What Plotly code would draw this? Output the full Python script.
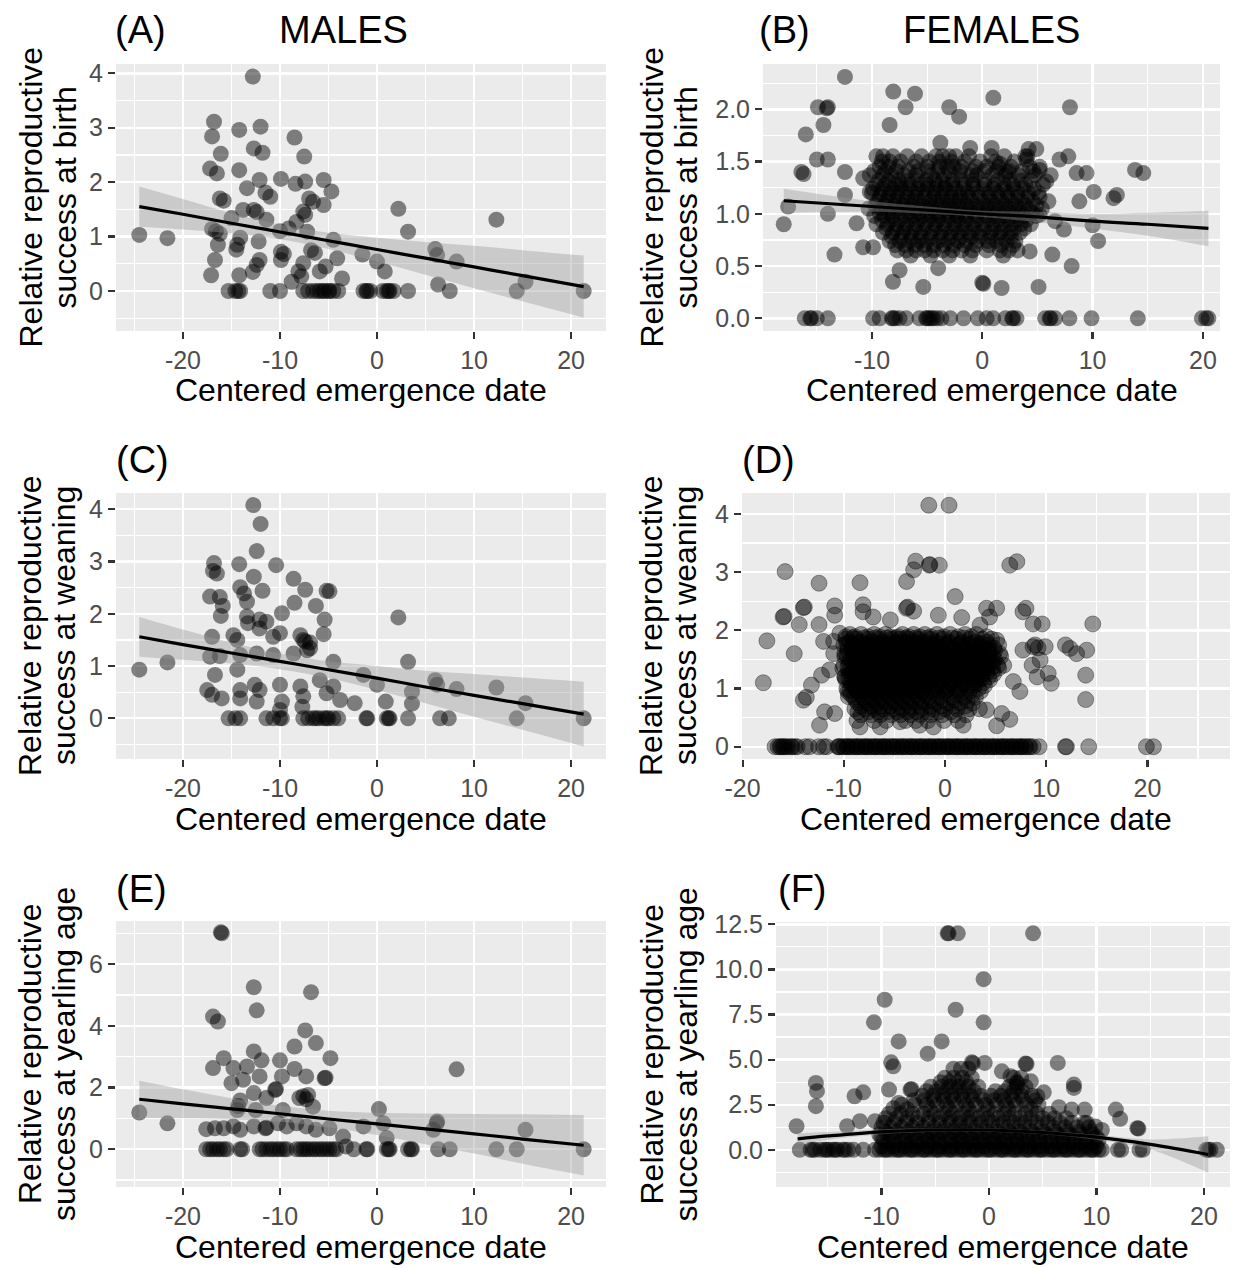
import plotly.graph_objects as go

W, H = 1235, 1268
FONT = "Liberation Sans, Arial, sans-serif"

# ---------------- tick labels ----------------
X_TICKS_M = [-20, -10, 0, 10, 20]
X_TICKS_M_TXT = ["-20", "-10", "0", "10", "20"]
X_TICKS_F = [-10, 0, 10, 20]
X_TICKS_F_TXT = ["-10", "0", "10", "20"]
Y_TICKS_A = [0, 1, 2, 3, 4]
Y_TICKS_A_TXT = ["0", "1", "2", "3", "4"]
Y_TICKS_B = [0.0, 0.5, 1.0, 1.5, 2.0]
Y_TICKS_B_TXT = ["0.0", "0.5", "1.0", "1.5", "2.0"]
Y_TICKS_E = [0, 2, 4, 6]
Y_TICKS_E_TXT = ["0", "2", "4", "6"]
Y_TICKS_F = [0.0, 2.5, 5.0, 7.5, 10.0, 12.5]
Y_TICKS_F_TXT = ["0.0", "2.5", "5.0", "7.5", "10.0", "12.5"]

# ---------------- panel A: males, birth ----------------
A_x = [
    -12.8, -16.8, -17.0, -14.2, -12.0, -8.5, -16.1, -12.7, -11.8, -7.5,
    -17.2, -16.5, -14.2, -12.1, -9.9, -8.4, -7.4, -5.5, -4.7, -13.4,
    -11.5, -16.2, -15.8, -7.0, -6.6, -5.5, -11.0, -13.8, -12.7, -12.4,
    -15.0, -11.4, -7.6, -7.4, -8.3, -9.1, -17.0, -16.6, -16.2, -14.1,
    -12.2, -10.0, -7.2, -4.5, -24.5, -21.6, -16.4, -14.4, -14.5, -9.9,
    -9.6, -6.8, -6.4, -16.7, -12.1, -12.4, -9.9, -7.6, -4.1, -5.3,
    -17.1, -14.2, -12.8, -8.1, -7.8, -5.9, -3.6, -8.8, -1.5, 0.0,
    0.8, 2.2, 3.2, 6.0, 6.2, 8.2, 6.3, 12.3, 15.3,
]
A_y = [
    3.94, 3.11, 2.84, 2.96, 3.02, 2.82, 2.52, 2.62, 2.54, 2.47,
    2.25, 2.16, 2.22, 2.04, 2.06, 1.97, 2.01, 2.04, 1.83, 1.89,
    1.81, 1.70, 1.66, 1.70, 1.64, 1.58, 1.73, 1.49, 1.49, 1.45,
    1.34, 1.31, 1.46, 1.40, 1.27, 1.15, 1.14, 1.10, 1.05, 0.98,
    0.91, 1.10, 1.09, 0.94, 1.03, 0.97, 0.85, 0.85, 0.76, 0.72,
    0.68, 0.75, 0.70, 0.57, 0.57, 0.48, 0.57, 0.51, 0.60, 0.45,
    0.29, 0.29, 0.35, 0.36, 0.27, 0.36, 0.23, 0.17, 0.67, 0.54,
    0.36, 1.51, 1.09, 0.77, 0.66, 0.54, 0.12, 1.31, 0.17,
]
A_zero_x = [-15.3, -14.6, -14.3, -14.1, -11.0, -10.0, -7.6, -7.1, -6.6, -6.2,
            -5.9, -5.6, -5.4, -5.0, -4.9, -4.5, -4.0, -1.4, -1.1, -1.0,
            -0.7, 0.6, 1.0, 1.2, 1.3, 1.7, 3.2, 7.5, 14.4, 21.3]
A_fit_x = [-24.5, -20, -15, -10, -5, 0, 5, 10, 15, 21.3]
A_fit_y = [1.55, 1.41, 1.245, 1.085, 0.924, 0.763, 0.603, 0.442, 0.282, 0.08]
A_fit_lo = [1.18, 1.13, 1.06, 0.95, 0.77, 0.54, 0.30, 0.05, -0.19, -0.49]
A_fit_hi = [1.92, 1.69, 1.43, 1.22, 1.07, 0.98, 0.90, 0.83, 0.75, 0.65]

# ---------------- panel B: females, birth ----------------
B_x = [
    -12.45, -8.07, -6.1, -6.95, 1.0, 7.95, -3.0, -2.1, -14.9, -14.0,
    -14.1, -14.4, -16.0, -8.4, -15.0, -14.0, -16.4, -16.2, -12.45, -17.6,
    -18.0, -14.0, -13.4, -12.45, -11.4, -10.8, -10.8, -9.9, -10.2, -8.1,
    -7.5, -5.35, 0.1, 0.0, 1.75, 5.1, 8.1, 6.35, -1.1, 0.85,
    -3.8, 4.2, 4.9, 4.0, 4.1, 7.0, 7.8, 8.55, 9.45, 10.1,
    11.9, 12.2, 13.85, 14.6, 10.5, 10.0, 8.8, 5.8, 5.2, 5.2,
    2.8, 1.6, 2.2, -4.0, 4.3, 6.6, 7.4,
]
B_y = [
    2.31, 2.17, 2.15, 2.02, 2.11, 2.02, 2.02, 1.93, 2.02, 2.02,
    2.01, 1.85, 1.76, 1.85, 1.52, 1.52, 1.40, 1.38, 1.40, 1.07,
    0.90, 1.00, 0.61, 1.18, 0.91, 1.34, 0.68, 0.68, 1.21, 0.35,
    0.46, 0.30, 0.33, 0.34, 0.29, 0.30, 0.50, 0.61, 1.63, 1.63,
    1.68, 1.62, 1.62, 1.52, 1.55, 1.52, 1.55, 1.39, 1.39, 1.21,
    1.15, 1.18, 1.42, 1.39, 0.74, 0.89, 1.12, 1.31, 1.42, 0.99,
    0.70, 1.48, 1.40, 0.48, 0.64, 0.93, 0.85,
]
B_core_y = [1.55, 1.45, 1.37, 1.28, 1.20, 1.12, 1.05, 0.98, 0.90, 0.82, 0.74, 0.65, 0.60]
B_core_x = [
    [-9.6, -9.0, -8.1, -6.8, -5.5, -4.2, -3.6, -3.0, -2.4, -1.2, 0.8, 2.0, 3.9],
    [-9.3, -8.5, -7.6, -6.2, -5.0, -3.9, -3.2, -2.6, -1.9, -0.6, 0.4, 1.5, 2.6, 4.3, 5.2],
    [-10.2, -9.0, -8.2, -7.1, -6.0, -4.6, -3.5, -2.2, -1.0, -0.5, 0.9, 2.1, 3.3, 4.8, 6.2],
    [-9.6, -8.8, -7.9, -7.3, -6.5, -5.6, -4.9, -4.1, -3.3, -2.7, -1.6, -0.8, 0.2, 1.1, 2.0, 2.8, 3.9, 5.5],
    [-10.0, -9.2, -8.4, -7.7, -6.9, -6.1, -5.3, -4.4, -3.7, -2.9, -2.1, -1.3, -0.4, 0.6, 1.4, 2.3, 3.2, 4.2, 5.1],
    [-9.5, -8.7, -8.0, -7.2, -6.4, -5.7, -4.8, -4.1, -3.2, -2.5, -1.7, -0.9, 0.1, 0.9, 1.8, 2.7, 3.6, 4.6, 6.0],
    [-10.3, -9.2, -8.3, -7.5, -6.7, -5.9, -5.1, -4.4, -3.5, -2.8, -2.0, -1.1, -0.3, 0.6, 1.5, 2.4, 3.3, 4.2, 5.4],
    [-9.8, -8.9, -8.1, -7.0, -6.2, -5.4, -4.6, -3.9, -3.0, -2.3, -1.5, -0.6, 0.3, 1.1, 2.0, 2.9, 3.8, 4.9],
    [-9.6, -8.6, -7.8, -6.9, -6.0, -5.2, -4.3, -3.5, -2.6, -1.8, -0.9, 0.0, 0.9, 1.7, 2.6, 3.5, 4.4],
    [-9.0, -8.1, -7.2, -6.5, -5.6, -4.7, -3.8, -2.9, -2.1, -1.2, -0.3, 0.7, 1.6, 2.5, 3.4],
    [-8.4, -7.5, -6.6, -5.8, -5.0, -4.0, -3.1, -2.2, -1.4, -0.5, 0.5, 1.3, 2.2, 3.0],
    [-7.7, -6.9, -6.0, -5.2, -4.4, -3.6, -2.7, -1.9, -0.9, 0.4, 1.6, 2.4, 3.2],
    [-6.5, -4.7, -3.0, -1.1, 1.9],
]
B_core2_y = [1.50, 1.41, 1.32, 1.24, 1.16, 1.08, 1.01, 0.94, 0.86, 0.78, 0.70]
B_core2_x = [
    [-9.1, -8.4, -7.4, -6.0, -4.8, -3.9, -2.8, -1.6, -0.2, 1.2, 2.9],
    [-9.8, -8.8, -7.8, -6.7, -5.8, -4.9, -4.0, -3.0, -2.0, -0.9, 0.2, 1.3, 2.4, 3.6, 4.6],
    [-9.4, -8.5, -7.6, -6.8, -5.9, -5.1, -4.3, -3.6, -2.7, -1.9, -0.9, 0.2, 1.4, 2.5, 3.5, 4.4],
    [-9.9, -9.0, -8.2, -7.4, -6.6, -5.8, -5.0, -4.2, -3.4, -2.5, -1.7, -0.8, 0.1, 1.0, 1.9, 2.8, 3.7, 4.7],
    [-9.3, -8.5, -7.7, -6.8, -6.0, -5.2, -4.4, -3.6, -2.8, -2.0, -1.2, -0.3, 0.6, 1.5, 2.3, 3.2, 4.1, 5.2],
    [-9.7, -8.8, -7.9, -7.1, -6.3, -5.4, -4.6, -3.8, -3.0, -2.2, -1.4, -0.5, 0.4, 1.2, 2.1, 3.0, 3.9, 4.9],
    [-9.3, -8.5, -7.6, -6.7, -5.8, -5.0, -4.2, -3.3, -2.5, -1.7, -0.8, 0.1, 1.0, 1.9, 2.7, 3.6, 4.5],
    [-9.1, -8.2, -7.4, -6.5, -5.7, -4.8, -4.0, -3.1, -2.2, -1.4, -0.5, 0.5, 1.4, 2.3, 3.1, 4.0],
    [-8.7, -7.8, -7.0, -6.1, -5.2, -4.3, -3.4, -2.5, -1.6, -0.7, 0.2, 1.1, 2.0, 2.9, 3.8],
    [-8.2, -7.3, -6.4, -5.5, -4.6, -3.7, -2.8, -1.9, -1.0, -0.1, 0.8, 1.7, 2.6],
    [-7.9, -7.0, -6.1, -5.3, -4.4, -3.5, -2.6, -1.6, -0.6, 0.6, 1.7],
]
B_zero_x = [-16.1, -15.6, -15.5, -15.0, -14.0, -9.9, -9.3, -8.2, -8.1, -7.9,
            -7.5, -6.9, -5.7, -5.1, -5.0, -4.8, -4.6, -4.4, -4.1, -3.7,
            -2.9, -1.7, -0.4, 0.4, 1.0, 2.1, 2.7, 2.8, 3.1, 5.7,
            6.1, 6.2, 6.6, 7.9, 9.9, 14.1, 19.9, 20.3, 20.5]
B_fit_x = [-18, -10, -5, 0, 5, 10, 15, 20.5]
B_fit_y = [1.125, 1.07, 1.035, 1.0, 0.97, 0.93, 0.90, 0.86]
B_fit_lo = [1.01, 1.02, 1.0, 0.97, 0.92, 0.86, 0.79, 0.69]
B_fit_hi = [1.24, 1.12, 1.07, 1.03, 1.02, 1.00, 1.01, 1.03]

# ---------------- panel C: males, weaning ----------------
C_x = [
    -12.75, -12.0, -12.4, -16.8, -16.9, -16.5, -14.2, -10.4, -12.7, -8.6,
    -17.2, -16.2, -15.9, -16.1, -14.1, -13.7, -13.4, -11.8, -7.4, -5.2,
    -4.9, -8.5, -6.3, -9.8, -12.1, -11.4, -5.4, -7.9, -7.4, -6.9,
    -5.5, -17.0, -14.8, -14.4, -13.3, -10.0, -17.2, -16.2, -14.1, -14.4,
    -12.4, -10.7, -8.6, -4.5, -24.5, -21.6, -16.7, -17.5, -17.0, -16.0,
    -14.1, -14.1, -12.6, -12.1, -12.4, -10.0, -9.8, -10.0, -7.9, -7.6,
    -7.7, -5.9, -5.2, -4.5, -3.8, -2.3, -1.4, 0.0, 0.9, 2.2,
    3.2, 3.6, 3.6, 6.0, 6.2, 8.2, 12.3, 15.3, -7.6, -7.2,
    -6.9, -13.4, -10.7, -12.1,
]
C_y = [
    4.08, 3.72, 3.20, 2.97, 2.82, 2.77, 2.95, 2.93, 2.71, 2.67,
    2.33, 2.32, 2.15, 1.96, 2.51, 2.39, 2.23, 2.44, 2.46, 2.44,
    2.43, 2.21, 2.15, 2.01, 1.89, 1.85, 1.89, 1.59, 1.47, 1.34,
    1.61, 1.56, 1.59, 1.50, 1.82, 1.63, 1.18, 1.19, 1.21, 0.93,
    1.24, 1.21, 1.24, 1.08, 0.93, 1.07, 0.83, 0.54, 0.45, 0.38,
    0.54, 0.38, 0.64, 0.54, 0.32, 0.64, 0.32, 0.16, 0.61, 0.42,
    0.22, 0.73, 0.48, 0.61, 0.35, 0.29, 0.83, 0.64, 0.32, 1.93,
    1.08, 0.51, 0.28, 0.73, 0.64, 0.56, 0.59, 0.29, 1.50, 1.30,
    1.45, 1.95, 1.56, 1.72,
]
C_zero_x = [-15.3, -14.6, -14.1, -11.4, -10.7, -10.0, -9.8, -7.6, -7.1, -6.6,
            -6.3, -6.0, -5.5, -5.2, -5.0, -4.5, -4.0, -1.1, -1.0, 1.0,
            1.2, 1.3, 3.2, 6.5, 7.4, 14.4, 21.3]
C_fit_x = [-24.5, -20, -15, -10, -5, 0, 5, 10, 15, 21.3]
C_fit_y = [1.56, 1.41, 1.25, 1.09, 0.93, 0.77, 0.60, 0.44, 0.28, 0.08]
C_fit_lo = [1.18, 1.12, 1.05, 0.94, 0.77, 0.54, 0.29, 0.03, -0.22, -0.54]
C_fit_hi = [1.94, 1.70, 1.45, 1.24, 1.09, 1.00, 0.91, 0.85, 0.78, 0.70]

# ---------------- panel D: females, weaning ----------------
D_x = [
    -1.6, 0.4, -15.8, -12.45, -8.4, -2.9, -1.55, -1.5, -0.56, -3.1,
    -3.8, 6.4, 7.1, 1.0, -14.0, -13.9, -16.0, -15.9, -14.4, -12.45,
    -10.9, -10.9, -8.1, -8.1, -7.1, -5.4, -3.8, -3.7, -3.1, -0.66,
    1.65, 3.46, 4.1, 5.1, 4.4, 8.0, 7.7, 8.7, 9.6, 14.6,
    -17.6, -14.9, -12.0, -11.0, -11.0, -17.95, -13.2, -12.2, -11.4, -14.0,
    -13.7, -11.9, -10.9, -12.4, 7.7, 8.9, 9.9, 9.4, 10.2, 9.1,
    10.5, 8.6, 8.7, 9.2, 11.9, 12.35, 13.0, 14.0, 13.9, 13.9,
    7.4, 6.75, 6.4, 5.6, 5.1, 4.1, 5.8, 5.1, 4.1, -10.4,
    -9.9, -9.55, -8.4, -6.4, -4.45, -2.5, -1.15, 1.8,
]
D_y = [
    4.15, 4.15, 3.01, 2.81, 2.82, 3.19, 3.12, 3.13, 3.12, 3.04,
    2.84, 3.12, 3.18, 2.58, 2.39, 2.40, 2.23, 2.24, 2.10, 2.10,
    2.42, 2.26, 2.44, 2.32, 2.23, 2.18, 2.38, 2.40, 2.33, 2.26,
    2.22, 2.09, 2.38, 2.38, 2.23, 2.38, 2.32, 2.11, 2.11, 2.11,
    1.82, 1.60, 1.81, 1.81, 1.60, 1.10, 1.06, 1.23, 1.32, 0.80,
    0.85, 0.60, 0.57, 0.37, 1.66, 1.75, 1.72, 1.49, 1.26, 1.20,
    1.09, 1.40, 1.72, 1.70, 1.75, 1.69, 1.60, 1.66, 1.23, 0.81,
    0.95, 1.12, 0.47, 0.57, 0.36, 0.63, 1.40, 1.83, 1.89, 1.95,
    1.20, 0.86, 0.34, 0.34, 0.43, 0.37, 0.34, 0.37,
]
D_core_y = [1.93, 1.85, 1.75, 1.65, 1.55, 1.45, 1.35, 1.25, 1.15, 1.05, 0.95, 0.85, 0.75, 0.65, 0.55, 0.45]
D_core_x = [
    [-9.4, -8.3, -7.0, -5.9, -4.2, -3.1, -2.0, -0.8, 0.5, 2.0, 3.1],
    [-9.8, -8.8, -7.6, -6.5, -5.3, -4.5, -3.6, -2.6, -1.4, -0.2, 1.1, 2.5, 3.7, 4.6],
    [-10.0, -9.1, -8.0, -7.1, -6.0, -5.0, -4.1, -3.2, -2.2, -1.0, 0.1, 1.3, 2.2, 3.3, 4.3, 5.3],
    [-9.6, -8.6, -7.5, -6.6, -5.6, -4.6, -3.7, -2.8, -1.7, -0.6, 0.6, 1.7, 2.8, 3.8, 4.9],
    [-9.9, -8.9, -8.1, -7.0, -6.1, -5.2, -4.2, -3.3, -2.3, -1.3, -0.2, 0.9, 2.1, 3.2, 4.4, 5.5],
    [-9.5, -8.4, -7.4, -6.4, -5.5, -4.7, -3.8, -2.7, -1.8, -0.7, 0.4, 1.5, 2.6, 3.6, 4.7],
    [-10.1, -9.0, -8.0, -7.0, -6.0, -5.1, -4.3, -3.3, -2.3, -1.2, -0.1, 1.0, 2.1, 3.1, 4.2, 5.3],
    [-9.4, -8.5, -7.6, -6.6, -5.6, -4.7, -3.8, -2.9, -1.8, -0.7, 0.5, 1.6, 2.7, 3.7, 4.8],
    [-9.8, -8.8, -7.9, -7.0, -6.1, -5.2, -4.3, -3.3, -2.4, -1.3, -0.1, 1.1, 2.2, 3.3, 4.4],
    [-9.2, -8.3, -7.4, -6.5, -5.6, -4.8, -3.9, -2.9, -1.9, -0.8, 0.4, 1.6, 2.8, 3.9],
    [-9.6, -8.7, -7.8, -6.9, -6.0, -5.1, -4.2, -3.2, -2.3, -1.2, 0.0, 1.2, 2.4, 3.5],
    [-9.0, -8.1, -7.2, -6.3, -5.4, -4.5, -3.6, -2.6, -1.6, -0.5, 0.7, 1.9, 3.0],
    [-8.6, -7.6, -6.7, -5.8, -4.9, -3.9, -3.0, -2.0, -0.9, 0.3, 1.5, 2.7],
    [-8.9, -7.9, -7.0, -6.1, -5.1, -4.2, -3.3, -2.3, -1.2, 0.0, 1.2, 2.4, 3.4],
    [-8.3, -7.3, -6.4, -5.3, -4.4, -3.4, -2.4, -1.4, -0.3, 0.9, 2.1],
    [-8.7, -7.0, -5.8, -3.9, -2.9, -1.7, -0.1, 1.3],
]
D_core2_y = [1.89, 1.80, 1.70, 1.60, 1.50, 1.40, 1.30, 1.20, 1.10, 1.00, 0.90, 0.80, 0.70, 0.60]
D_core2_x = [
    [-9.8, -8.9, -7.6, -6.5, -5.4, -4.6, -3.6, -2.5, -1.4, -0.1, 1.3, 2.6],
    [-9.4, -8.3, -7.2, -6.1, -4.9, -4.0, -3.1, -2.1, -0.9, 0.4, 1.7, 3.0, 4.1],
    [-9.6, -8.6, -7.6, -6.6, -5.5, -4.6, -3.7, -2.7, -1.6, -0.5, 0.7, 1.8, 2.8, 3.8, 4.8],
    [-9.9, -9.1, -8.0, -7.0, -6.1, -5.1, -4.2, -3.3, -2.2, -1.1, 0.0, 1.2, 2.3, 3.3, 4.4, 5.4],
    [-9.4, -8.5, -7.5, -6.6, -5.6, -4.7, -3.8, -2.8, -1.8, -0.8, 0.3, 1.5, 2.6, 3.8, 4.9],
    [-10.0, -9.0, -7.9, -6.9, -6.0, -5.1, -4.2, -3.2, -2.2, -1.2, -0.1, 1.0, 2.0, 3.1, 4.2, 5.2],
    [-9.5, -8.5, -7.5, -6.5, -5.6, -4.7, -3.8, -2.8, -1.7, -0.6, 0.5, 1.6, 2.6, 3.7, 4.7],
    [-9.9, -8.9, -8.0, -7.1, -6.1, -5.2, -4.3, -3.3, -2.3, -1.2, -0.1, 1.1, 2.2, 3.2, 4.3],
    [-9.3, -8.3, -7.4, -6.5, -5.6, -4.8, -3.8, -2.8, -1.8, -0.7, 0.5, 1.6, 2.7, 3.8],
    [-9.7, -8.8, -7.9, -7.0, -6.1, -5.2, -4.3, -3.4, -2.4, -1.3, -0.2, 1.0, 2.2, 3.3],
    [-9.3, -8.4, -7.5, -6.6, -5.7, -4.8, -3.9, -2.9, -1.9, -0.8, 0.3, 1.5, 2.7],
    [-8.8, -7.9, -7.0, -6.1, -5.1, -4.2, -3.3, -2.3, -1.3, -0.2, 1.0, 2.2],
    [-8.3, -7.3, -6.4, -5.4, -4.5, -3.5, -2.5, -1.5, -0.4, 0.8, 2.0],
    [-8.6, -7.6, -6.6, -5.7, -4.7, -3.7, -2.8, -1.7, -0.6, 0.6],
]
D_core3_y = [1.87, 1.77, 1.67, 1.57, 1.47, 1.37, 1.27, 1.17, 1.07, 0.97]
D_core3_x = [
    [-9.1, -8.0, -6.9, -5.8, -4.9, -3.9, -2.9, -1.8, -0.6, 0.7, 1.9],
    [-9.7, -8.7, -7.7, -6.7, -5.8, -4.8, -3.9, -2.9, -1.9, -0.8, 0.4, 1.5, 2.6, 3.6],
    [-9.2, -8.2, -7.3, -6.3, -5.3, -4.4, -3.4, -2.4, -1.3, -0.2, 1.0, 2.1, 3.2, 4.3],
    [-9.7, -8.7, -7.8, -6.8, -5.9, -4.9, -4.0, -3.0, -2.0, -0.9, 0.2, 1.4, 2.5, 3.6, 4.7],
    [-9.1, -8.1, -7.1, -6.1, -5.2, -4.3, -3.3, -2.3, -1.3, -0.3, 0.8, 1.9, 3.0, 4.1],
    [-9.6, -8.6, -7.6, -6.7, -5.7, -4.8, -3.8, -2.8, -1.8, -0.7, 0.4, 1.5, 2.6, 3.6, 4.7],
    [-9.1, -8.1, -7.1, -6.2, -5.3, -4.3, -3.4, -2.4, -1.4, -0.3, 0.8, 1.9, 3.0, 4.1],
    [-9.5, -8.5, -7.6, -6.6, -5.7, -4.8, -3.8, -2.8, -1.8, -0.8, 0.3, 1.4, 2.5, 3.6],
    [-9.0, -8.0, -7.1, -6.2, -5.3, -4.4, -3.5, -2.5, -1.5, -0.4, 0.7, 1.9, 3.0],
    [-9.4, -8.5, -7.6, -6.7, -5.8, -4.9, -4.0, -3.0, -2.0, -0.9, 0.2, 1.4],
]
D_zero_x = [
    -16.8, -16.5, -16.2, -16.0, -15.7, -15.5, -15.2, -14.8, -14.6, -13.8,
    -13.4, -12.5, -12.0, -11.7, -10.6, -10.4, -10.1, -9.7, -9.5, -9.2,
    -8.8, -8.6, -8.3, -7.9, -7.7, -7.4, -7.0, -6.8, -6.5, -6.1,
    -5.9, -5.6, -5.2, -5.0, -4.7, -4.3, -4.1, -3.8, -3.4, -3.2,
    -2.9, -2.5, -2.3, -2.0, -1.6, -1.4, -1.1, -0.7, -0.5, -0.2,
    0.2, 0.4, 0.7, 1.1, 1.3, 1.6, 2.0, 2.2, 2.5, 2.9,
    3.1, 3.4, 3.8, 4.0, 4.3, 4.7, 4.9, 5.2, 5.6, 5.8,
    6.1, 6.5, 6.7, 7.0, 7.4, 7.6, 7.9, 8.3, 8.7, 9.3,
    11.9, 12.0, 14.2, 19.9, 20.6,
    -10.5, -10.0, -9.6, -9.1, -8.7, -8.2, -7.8, -7.3, -6.9, -6.4,
    -6.0, -5.5, -5.1, -4.6, -4.2, -3.7, -3.3, -2.8, -2.4, -1.9,
    -1.5, -1.0, -0.6, -0.1, 0.3, 0.8, 1.2, 1.7, 2.1, 2.6,
    3.0, 3.5, 3.9, 4.4, 4.8, 5.3, 5.7, 6.2, 6.6, 7.1,
    7.5, 8.0, 8.4, -16.3, -15.9, -15.1,
]

# ---------------- panel E: males, yearling ----------------
E_x = [
    -16.1, -16.0, -12.7, -6.8, -12.4, -16.9, -16.4, -7.4, -8.5, -6.3,
    -4.8, -15.8, -12.7, -11.9, -10.0, -16.9, -14.8, -13.4, -8.5, -7.3,
    -5.4, -5.3, -15.0, -13.8, -12.1, -10.5, -10.4, -9.8, -14.1, -14.4,
    -14.3, -12.7, -12.5, -8.0, -7.6, -7.1, -7.3, -6.6, -11.4, -9.7,
    -24.5, -21.6, -17.6, -16.7, -15.8, -14.8, -14.1, -12.7, -11.5, -11.4,
    -10.2, -9.3, -8.3, -7.3, -6.3, -4.9, -3.5, -3.2, -1.4, 0.2,
    0.65, 1.0, 6.15, 6.2, 5.8, 8.2, 15.3,
]
E_y = [
    7.03, 7.00, 5.25, 5.09, 4.50, 4.30, 4.14, 3.85, 3.33, 3.44,
    2.95, 2.95, 3.17, 2.88, 2.88, 2.63, 2.63, 2.68, 2.60, 2.36,
    2.30, 2.32, 2.14, 2.25, 2.36, 1.92, 1.95, 2.36, 1.58, 1.27,
    1.40, 1.82, 1.27, 1.66, 1.72, 1.76, 1.62, 1.38, 1.66, 1.27,
    1.19, 0.84, 0.65, 0.68, 0.68, 0.74, 0.63, 0.74, 0.68, 0.70,
    0.84, 0.74, 0.84, 0.74, 0.63, 0.68, 0.41, 0.09, 0.74, 1.30,
    0.84, 0.36, 0.84, 0.90, 0.63, 2.59, 0.63,
]
E_zero_x = [-17.6, -17.2, -16.9, -16.5, -16.2, -15.8, -15.5, -14.1, -13.9, -12.1,
            -11.8, -11.4, -11.0, -10.7, -10.3, -10.0, -9.6, -9.3, -8.3, -7.9,
            -7.6, -7.3, -7.0, -6.6, -6.3, -5.9, -5.6, -5.2, -4.9, -4.5,
            -4.2, -2.4, -1.1, -1.0, 1.0, 1.2, 1.3, 3.2, 3.5, 3.6,
            6.3, 7.5, 12.3, 14.4, 21.3]
E_fit_x = [-24.5, -20, -15, -10, -5, 0, 5, 10, 15, 21.3]
E_fit_y = [1.62, 1.47, 1.31, 1.15, 0.98, 0.82, 0.66, 0.50, 0.33, 0.13]
E_fit_lo = [1.02, 1.00, 0.97, 0.89, 0.71, 0.46, 0.16, -0.14, -0.47, -0.85]
E_fit_hi = [2.22, 1.94, 1.65, 1.41, 1.25, 1.18, 1.16, 1.14, 1.13, 1.11]

# ---------------- panel F: females, yearling ----------------
F_x = [
    -3.85, -3.75, -2.9, 4.1, -0.5, -9.7, -10.7, -3.1, -0.5, -8.4,
    -4.4, -5.7, -9.1, -8.9, -1.6, -1.5, -0.4, 3.4, 3.5, 6.4,
    3.9, 5.1, 7.9, 7.9, -16.1, -16.0, -16.1, -12.5, -11.7, -7.3,
    -7.2, -17.9, -13.2, -12.0, -10.6, 6.5, 8.9, 11.8, 12.2, 13.9,
    13.8, -9.3, -8.4, -8.9, 7.7, 9.1, 9.9, 10.5, 4.5, 2.6,
    2.0, 1.2,
]
F_y = [
    12.0, 12.0, 12.0, 12.0, 9.46, 8.32, 7.07, 7.77, 7.07, 6.01,
    6.01, 5.33, 4.85, 4.63, 4.85, 4.80, 4.82, 4.78, 4.76, 4.82,
    3.80, 3.19, 3.62, 3.43, 3.71, 3.25, 2.42, 2.97, 3.19, 3.34,
    3.36, 1.31, 1.31, 1.59, 1.59, 2.36, 2.23, 2.23, 1.72, 1.18,
    1.20, 3.34, 2.60, 2.30, 2.23, 1.49, 1.30, 1.10, 2.97, 3.70,
    4.08, 4.35,
]
F_core_y = [4.5, 4.0, 3.5, 3.0, 2.5, 2.25, 2.0, 1.5, 1.0, 0.7, 0.4]
F_core_x = [
    [-3.3, -2.6, -1.9],
    [-4.1, -3.3, -2.5, -1.6, 2.3, 3.0],
    [-5.4, -4.4, -3.6, -2.8, -1.9, -1.0, 1.9, 2.6, 3.4],
    [-6.2, -5.2, -4.3, -3.5, -2.6, -1.7, -0.8, 0.2, 1.1, 2.0, 3.0, 4.0],
    [-8.1, -6.9, -5.8, -4.8, -3.9, -3.0, -2.1, -1.2, -0.3, 0.7, 1.6, 2.5, 3.5, 4.6],
    [-7.6, -5.5, -3.7, -1.9, -0.1, 1.8, 3.9],
    [-9.3, -8.2, -7.1, -6.1, -5.1, -4.2, -3.3, -2.4, -1.5, -0.5, 0.5, 1.4, 2.4, 3.4, 4.5, 5.6],
    [-9.8, -8.8, -7.7, -6.7, -5.6, -4.6, -3.6, -2.7, -1.7, -0.7, 0.3, 1.3, 2.3, 3.3, 4.4, 5.5, 6.6, 7.7, 8.9],
    [-9.6, -8.6, -7.5, -6.4, -5.3, -4.3, -3.3, -2.3, -1.2, -0.2, 0.8, 1.9, 2.9, 4.0, 5.1, 6.2, 7.3, 8.4, 9.5],
    [-10.0, -9.0, -7.9, -6.9, -5.8, -4.8, -3.7, -2.7, -1.7, -0.6, 0.4, 1.4, 2.5, 3.5, 4.6, 5.7, 6.8, 7.9, 9.0, 10.0],
    [-9.4, -8.3, -7.2, -6.2, -5.2, -4.1, -3.0, -2.0, -1.0, 0.1, 1.1, 2.1, 3.2, 4.2, 5.3, 6.4, 7.4, 8.5, 9.6],
]
F_core2_y = [3.75, 3.25, 2.75, 1.75, 1.25, 0.85, 0.55, 0.2]
F_core2_x = [
    [-4.5, -3.7, -2.9, -2.1, 2.6],
    [-5.8, -4.9, -4.0, -3.1, -2.3, -1.4, 0.6, 1.5, 2.3, 3.1],
    [-7.0, -6.0, -5.1, -4.2, -3.3, -2.4, -1.5, -0.5, 0.5, 1.4, 2.3, 3.2, 4.3],
    [-9.6, -8.6, -7.6, -6.6, -5.6, -4.6, -3.7, -2.8, -1.9, -1.0, -0.1, 0.9, 1.9, 2.9, 3.9, 5.0, 6.1, 7.2],
    [-10.0, -9.1, -8.1, -7.1, -6.1, -5.1, -4.1, -3.1, -2.2, -1.2, -0.2, 0.8, 1.8, 2.8, 3.8, 4.9, 6.0, 7.1, 8.2, 9.3],
    [-10.2, -9.3, -8.2, -7.2, -6.1, -5.1, -4.1, -3.0, -2.0, -1.0, 0.0, 1.0, 2.0, 3.0, 4.1, 5.2, 6.3, 7.4, 8.5, 9.6],
    [-9.8, -8.8, -7.7, -6.7, -5.6, -4.6, -3.5, -2.5, -1.5, -0.4, 0.6, 1.6, 2.7, 3.7, 4.8, 5.9, 6.9, 8.0, 9.1, 10.2],
    [-10.0, -8.9, -7.8, -6.8, -5.7, -4.6, -3.5, -2.5, -1.5, -0.5, 0.6, 1.6, 2.6, 3.7, 4.7, 5.8, 6.9, 7.9, 9.0, 10.0],
]
F_zero_x = [
    -17.6, -16.6, -16.4, -16.2, -15.7, -15.3, -15.1, -14.9, -14.5, -14.3,
    -14.1, -13.6, -13.4, -13.1, -12.6, -11.7, -10.6, -10.2, -9.8, -9.6,
    -9.4, -9.0, -8.6, -8.4, -8.2, -7.8, -7.4, -7.2, -7.0, -6.6,
    -6.2, -6.0, -5.8, -5.4, -5.0, -4.8, -4.6, -4.2, -3.8, -3.6,
    -3.4, -3.0, -2.6, -2.4, -2.2, -1.8, -1.4, -1.2, -1.0, -0.6,
    -0.2, 0.0, 0.2, 0.6, 1.0, 1.2, 1.4, 1.8, 2.2, 2.4,
    2.6, 3.0, 3.4, 3.6, 3.8, 4.2, 4.6, 4.8, 5.0, 5.4,
    5.8, 6.0, 6.2, 6.6, 7.0, 7.2, 7.4, 7.8, 8.2, 8.4,
    8.6, 9.0, 9.4, 9.6, 9.8, 10.2, 10.5, 12.0, 12.3, 14.0,
    14.3, 20.2, 20.4, 20.6, 21.2,
]
F_fit_x = [-17.8, -15, -10, -5, 0, 5, 10, 15, 20.4]
F_fit_y = [0.61, 0.77, 1.0, 1.1, 1.1, 0.96, 0.70, 0.30, -0.26]
F_fit_lo = [0.30, 0.55, 0.86, 1.0, 1.0, 0.86, 0.56, 0.02, -1.27]
F_fit_hi = [0.92, 0.99, 1.14, 1.2, 1.2, 1.06, 0.84, 0.58, 0.75]


def flatten(core_y, core_x):
    xs, ys = [], []
    for yv, row in zip(core_y, core_x):
        for xv in row:
            xs.append(xv)
            ys.append(yv)
    return xs, ys


def panel_points(px, py, zero_x, cores=()):
    xs = list(px) + list(zero_x)
    ys = list(py) + [0.0] * len(zero_x)
    for core in cores:
        cx, cy = flatten(*core)
        xs += cx
        ys += cy
    return xs, ys


for a, b in [(A_x, A_y), (B_x, B_y), (C_x, C_y), (D_x, D_y), (E_x, E_y), (F_x, F_y)]:
    assert len(a) == len(b)

# ---------------- layout geometry (pixels) ----------------
PANELS = [
    dict(idx=1, xd=(116, 606), yd=(64, 331), xr=(-26.9, 23.6), yr=(-0.735, 4.171)),
    dict(idx=2, xd=(763, 1220), yd=(64, 331), xr=(-19.88, 21.55), yr=(-0.1215, 2.434)),
    dict(idx=3, xd=(116, 606), yd=(493, 759), xr=(-26.9, 23.6), yr=(-0.779, 4.312)),
    dict(idx=4, xd=(742, 1230), yd=(493, 759), xr=(-20.06, 28.16), yr=(-0.211, 4.361)),
    dict(idx=5, xd=(116, 606), yd=(921, 1187), xr=(-26.9, 23.6), yr=(-1.224, 7.396)),
    dict(idx=6, xd=(776, 1230), yd=(922, 1187), xr=(-19.81, 22.42), yr=(-2.06, 12.63)),
]
X_TICKS = [(X_TICKS_M, X_TICKS_M_TXT, [-25, -15, -5, 5, 15]),
           (X_TICKS_F, X_TICKS_F_TXT, [-15, -5, 5, 15]),
           (X_TICKS_M, X_TICKS_M_TXT, [-25, -15, -5, 5, 15]),
           (X_TICKS_M, X_TICKS_M_TXT, [-15, -5, 5, 15, 25]),
           (X_TICKS_M, X_TICKS_M_TXT, [-25, -15, -5, 5, 15]),
           (X_TICKS_F, X_TICKS_F_TXT, [-15, -5, 5, 15])]
Y_TICKS = [(Y_TICKS_A, Y_TICKS_A_TXT, [-0.5, 0.5, 1.5, 2.5, 3.5]),
           (Y_TICKS_B, Y_TICKS_B_TXT, [0.25, 0.75, 1.25, 1.75, 2.25]),
           (Y_TICKS_A, Y_TICKS_A_TXT, [-0.5, 0.5, 1.5, 2.5, 3.5]),
           (Y_TICKS_A, Y_TICKS_A_TXT, [0.5, 1.5, 2.5, 3.5]),
           (Y_TICKS_E, Y_TICKS_E_TXT, [-1, 1, 3, 5, 7]),
           (Y_TICKS_F, Y_TICKS_F_TXT, [-1.25, 1.25, 3.75, 6.25, 8.75, 11.25])]

PT_COLOR = "rgba(0,0,0,0.47)"
RIB_COLOR = "rgba(153,153,153,0.4)"

fig = go.Figure()

data_sets = [
    (panel_points(A_x, A_y, A_zero_x), (A_fit_x, A_fit_y, A_fit_lo, A_fit_hi)),
    (panel_points(B_x, B_y, B_zero_x, [(B_core_y, B_core_x), (B_core2_y, B_core2_x)]),
     (B_fit_x, B_fit_y, B_fit_lo, B_fit_hi)),
    (panel_points(C_x, C_y, C_zero_x), (C_fit_x, C_fit_y, C_fit_lo, C_fit_hi)),
    (panel_points(D_x, D_y, D_zero_x, [(D_core_y, D_core_x), (D_core2_y, D_core2_x),
                                       (D_core3_y, D_core3_x)]), None),
    (panel_points(E_x, E_y, E_zero_x), (E_fit_x, E_fit_y, E_fit_lo, E_fit_hi)),
    (panel_points(F_x, F_y, F_zero_x, [(F_core_y, F_core_x), (F_core2_y, F_core2_x)]),
     (F_fit_x, F_fit_y, F_fit_lo, F_fit_hi)),
]

for p, ((xs, ys), fit) in zip(PANELS, data_sets):
    i = p["idx"]
    xa = "x" if i == 1 else f"x{i}"
    ya = "y" if i == 1 else f"y{i}"
    if i == 4:
        marker = dict(size=16, color="rgba(0,0,0,0.38)",
                      line=dict(width=1, color="rgba(0,0,0,0.35)"))
    else:
        marker = dict(size=16, color=PT_COLOR, line=dict(width=0))
    fig.add_trace(go.Scatter(x=xs, y=ys, mode="markers", marker=marker,
                             xaxis=xa, yaxis=ya, showlegend=False, hoverinfo="skip"))
    if fit is not None:
        fx, fy, flo, fhi = fit
        fig.add_trace(go.Scatter(x=fx, y=flo, mode="lines", line=dict(width=0, shape="spline"),
                                 xaxis=xa, yaxis=ya, showlegend=False, hoverinfo="skip"))
        fig.add_trace(go.Scatter(x=fx, y=fhi, mode="lines", line=dict(width=0, shape="spline"),
                                 fill="tonexty", fillcolor=RIB_COLOR,
                                 xaxis=xa, yaxis=ya, showlegend=False, hoverinfo="skip"))
        fig.add_trace(go.Scatter(x=fx, y=fy, mode="lines",
                                 line=dict(width=3.2, color="black", shape="spline"),
                                 xaxis=xa, yaxis=ya, showlegend=False, hoverinfo="skip"))

TICKFONT = dict(family=FONT, size=25, color="#4D4D4D")
layout_axes = {}
for p, (xt, xtt, xm), (yt, ytt, ym) in zip(PANELS, X_TICKS, Y_TICKS):
    i = p["idx"]
    xk = "xaxis" if i == 1 else f"xaxis{i}"
    yk = "yaxis" if i == 1 else f"yaxis{i}"
    common = dict(ticks="outside", ticklen=7, tickwidth=2.2, tickcolor="#333333",
                  showgrid=True, gridcolor="white", gridwidth=2.4, automargin=False,
                  zeroline=False, showline=False, tickfont=TICKFONT, fixedrange=True)
    layout_axes[xk] = dict(
        domain=[p["xd"][0] / W, p["xd"][1] / W], range=list(p["xr"]),
        anchor="y" if i == 1 else f"y{i}",
        tickmode="array", tickvals=xt, ticktext=xtt,
        minor=dict(tickmode="array", tickvals=xm, showgrid=True, gridcolor="white",
                   gridwidth=1.2, ticks=""),
        **common)
    layout_axes[yk] = dict(
        domain=[1 - p["yd"][1] / H, 1 - p["yd"][0] / H], range=list(p["yr"]),
        anchor="x" if i == 1 else f"x{i}",
        tickmode="array", tickvals=yt, ticktext=ytt,
        minor=dict(tickmode="array", tickvals=ym, showgrid=True, gridcolor="white",
                   gridwidth=1.2, ticks=""),
        **common)

ann = []


def text_at(x_px, y_px, text, size, xanchor="center", angle=0, color="black"):
    ann.append(dict(x=x_px / W, y=1 - y_px / H, xref="paper", yref="paper",
                    text=text, showarrow=False, xanchor=xanchor, yanchor="middle",
                    textangle=angle, font=dict(family=FONT, size=size, color=color)))


TITLE_SIZE = 38
AXIS_SIZE = 32
text_at(113, 30, "(A)", TITLE_SIZE, "left")
text_at(343, 30, "MALES", TITLE_SIZE)
text_at(757, 30, "(B)", TITLE_SIZE, "left")
text_at(991, 30, "FEMALES", TITLE_SIZE)
text_at(114, 460, "(C)", TITLE_SIZE, "left")
text_at(740, 460, "(D)", TITLE_SIZE, "left")
text_at(114, 889, "(E)", TITLE_SIZE, "left")
text_at(776, 889, "(F)", TITLE_SIZE, "left")

for p, yy in zip(PANELS, [390, 390, 819, 819, 1247, 1247]):
    text_at((p["xd"][0] + p["xd"][1]) / 2, yy, "Centered emergence date", AXIS_SIZE)

Y_LINE2 = ["success at birth", "success at birth", "success at weaning",
           "success at weaning", "success at yearling age", "success at yearling age"]
for p, l2 in zip(PANELS, Y_LINE2):
    left_col = p["xd"][0] < 300
    x1, x2 = (30, 64) if left_col else (651, 685)
    yc = (p["yd"][0] + p["yd"][1]) / 2
    text_at(x1, yc, "Relative reproductive", AXIS_SIZE, angle=-90)
    text_at(x2, yc, l2, AXIS_SIZE, angle=-90)

fig.update_layout(
    width=W, height=H, autosize=False,
    margin=dict(l=0, r=0, t=0, b=0, pad=0),
    paper_bgcolor="white", plot_bgcolor="#EBEBEB",
    font=dict(family=FONT),
    annotations=ann,
    **layout_axes,
)

fig.write_html("out.html", config={"displayModeBar": False, "staticPlot": True},
               post_script="document.body.style.margin='0';")
